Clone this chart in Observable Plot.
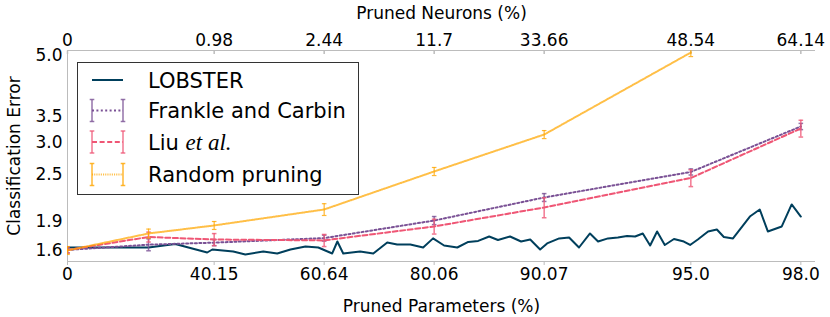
<!DOCTYPE html>
<html><head><meta charset="utf-8">
<script src="https://cdn.jsdelivr.net/npm/d3@7"></script>
<script src="https://cdn.jsdelivr.net/npm/@observablehq/plot@0.6"></script>
<style>body{margin:0;background:#fff} #chart svg{display:block}</style>
</head><body><div id="chart"></div>
<script>
// x = position index along the pruning schedule; ticks labelled with % pruned
const iterTicks = [0, 4, 7, 10, 13, 17, 20];
const paramLabels = ["0", "40.15", "60.64", "80.06", "90.07", "95.0", "98.0"];
const neuronLabels = ["0", "0.98", "2.44", "11.7", "33.66", "48.54", "64.14"];
const yTicks = [1.6, 1.9, 2.5, 3.0, 3.5, 5.0];

const lobsterX = [0, 2.21, 2.94, 3.81, 3.95, 4.52, 4.85, 5.34, 5.72, 6.08, 6.49, 6.84, 7.22, 7.36, 7.52, 7.98, 8.34, 8.72, 8.99, 9.35, 9.70, 9.97, 10.27, 10.63, 10.93, 11.20, 11.50, 11.74, 12.07, 12.37, 12.62, 12.89, 13.08, 13.41, 13.68, 13.95, 14.25, 14.47, 14.74, 15.01, 15.26, 15.48, 15.69, 15.89, 16.08, 16.29, 16.54, 16.81, 16.98, 17.19, 17.47, 17.71, 17.90, 18.15, 18.61, 18.88, 19.10, 19.48, 19.75, 20.00];
const lobsterY = [1.628, 1.628, 1.662, 1.581, 1.609, 1.590, 1.563, 1.590, 1.572, 1.609, 1.638, 1.628, 1.572, 1.686, 1.572, 1.590, 1.572, 1.677, 1.657, 1.657, 1.628, 1.717, 1.647, 1.628, 1.682, 1.692, 1.736, 1.701, 1.736, 1.686, 1.706, 1.609, 1.667, 1.717, 1.726, 1.628, 1.767, 1.686, 1.717, 1.726, 1.741, 1.736, 1.767, 1.647, 1.788, 1.652, 1.711, 1.686, 1.652, 1.706, 1.788, 1.809, 1.731, 1.717, 1.951, 2.033, 1.788, 1.841, 2.094, 1.951];

const baseX = [0, 2.21, 4, 7, 10, 13, 17, 20];
const frankleY = [1.605, 1.655, 1.675, 1.72, 1.906, 2.181, 2.532, 3.303];
const frankleErr = [0.028, 0.058, 0.03, 0.03, 0.045, 0.05, 0.045, 0.06];
const liuY = [1.605, 1.731, 1.706, 1.697, 1.841, 2.057, 2.444, 3.265];
const liuErr = [0.028, 0.05, 0.06, 0.06, 0.08, 0.12, 0.12, 0.16];
const randomX = [0, 2.21, 4, 7, 10, 13, 17];
const randomY = [1.6, 1.767, 1.852, 2.033, 2.539, 3.151, 5.09];
const randomErr = [0.037, 0.046, 0.043, 0.07, 0.06, 0.074, 0.12];

const seriesNames = ["LOBSTER", "Frankle and Carbin", "Liu et al.", "Random pruning"];
const colors = ["#003f5c", "#7a5195", "#ef5675", "#ffa600"];
const dashes = [null, "2,2.4", "5,2.6", "1.1,1.1"];
const lineOpacity = [1, 1, 1, 0.72];

const lobster = lobsterX.map((x, i) => ({x, y: lobsterY[i]}));
const mk = (xs, ys, es) => xs.map((x, i) => ({x, y: ys[i], lo: ys[i] - es[i], hi: ys[i] + es[i]}));
const frankle = mk(baseX, frankleY, frankleErr);
const liu = mk(baseX, liuY, liuErr);
const random = mk(randomX, randomY, randomErr);

const hCap = {draw(ctx, size) { const w = Math.sqrt(size / Math.PI); ctx.moveTo(-w, 0); ctx.lineTo(w, 0); }};
const vTick = {draw(ctx, size) { const l = Math.sqrt(size / Math.PI); ctx.moveTo(0, 0); ctx.lineTo(0, l); }};

function errMarks(data, color, w) {
  return [
    Plot.ruleX(data, {x: "x", y1: "lo", y2: "hi", stroke: color, strokeWidth: w, strokeOpacity: 0.8, clip: true}),
    Plot.dot(data, {x: "x", y: "lo", symbol: hCap, r: 2.3, stroke: color, strokeWidth: w, strokeOpacity: 0.8, fill: "none", clip: true}),
    Plot.dot(data, {x: "x", y: "hi", symbol: hCap, r: 2.3, stroke: color, strokeWidth: w, strokeOpacity: 0.8, fill: "none", clip: true})
  ];
}

const gray = "#bcbcbc";
const plot = Plot.plot({
  width: 830, height: 317,
  marginLeft: 67, marginRight: 15, marginTop: 50, marginBottom: 56,
  style: {fontFamily: "DejaVu Sans", fontSize: "17px", color: "#000", background: "#fff", overflow: "visible"},
  x: {domain: [0, 20.4]},
  y: {type: "log", domain: [1.5, 5.15]},
  marks: [
    Plot.ruleX([0], {stroke: gray}),
    Plot.ruleY([1.5, 5.15], {stroke: gray}),
    Plot.axisY({ticks: yTicks, tickFormat: d3.format(".1f"), tickSize: 0, tickPadding: 5, fontSize: 17,
      label: "Classification Error", labelAnchor: "center", labelArrow: "none", labelOffset: 60}),
    Plot.axisX({anchor: "bottom", ticks: iterTicks, tickFormat: d => paramLabels[iterTicks.indexOf(d)],
      tickSize: 4, tickPadding: 2, stroke: gray, fill: "#000", fontSize: 17,
      label: "Pruned Parameters (%)", labelAnchor: "center", labelArrow: "none", labelOffset: 50}),
    Plot.axisX({anchor: "top", ticks: iterTicks, tickFormat: d => neuronLabels[iterTicks.indexOf(d)],
      tickSize: 0, tickPadding: 5, fill: "#000", fontSize: 17,
      label: "Pruned Neurons (%)", labelAnchor: "center", labelArrow: "none", labelOffset: 44}),
    Plot.dot(iterTicks, {x: d => d, frameAnchor: "top", symbol: vTick, r: 3.5, stroke: gray, fill: "none"}),
    Plot.line(lobster, {x: "x", y: "y", stroke: colors[0], strokeWidth: 2, clip: true}),
    Plot.line(frankle, {x: "x", y: "y", stroke: colors[1], strokeWidth: 2, strokeDasharray: dashes[1], clip: true}),
    ...errMarks(frankle, colors[1], 1.5),
    Plot.line(liu, {x: "x", y: "y", stroke: colors[2], strokeWidth: 2, strokeDasharray: dashes[2], clip: true}),
    ...errMarks(liu, colors[2], 1.5),
    Plot.line(random, {x: "x", y: "y", stroke: colors[3], strokeWidth: 2, strokeOpacity: lineOpacity[3], strokeDasharray: dashes[3], clip: true}),
    ...errMarks(random, colors[3], 1.2)
  ]
});
document.getElementById("chart").appendChild(plot);

// Legend box
const svg = d3.select(plot);
const lg = svg.append("g").attr("font-family", "DejaVu Sans").attr("font-size", 21).attr("text-anchor", "start");
lg.append("rect").attr("x", 77.5).attr("y", 62.5).attr("width", 281).attr("height", 132)
  .attr("fill", "#fff").attr("stroke", "#333").attr("stroke-width", 1);
const rowY = [80, 110.5, 142, 174.5];
seriesNames.forEach((name, i) => {
  const y = rowY[i];
  lg.append("line").attr("x1", 92).attr("x2", 123).attr("y1", y).attr("y2", y)
    .attr("stroke", colors[i]).attr("stroke-width", 2).attr("stroke-opacity", lineOpacity[i])
    .attr("stroke-dasharray", dashes[i]);
  if (i > 0) {
    [92, 123].forEach(xx => {
      lg.append("line").attr("x1", xx).attr("x2", xx).attr("y1", y - 11).attr("y2", y + 11)
        .attr("stroke", colors[i]).attr("stroke-width", 1.5).attr("stroke-opacity", 0.8);
      [y - 11, y + 11].forEach(yy => lg.append("line").attr("x1", xx - 2.3).attr("x2", xx + 2.3)
        .attr("y1", yy).attr("y2", yy).attr("stroke", colors[i]).attr("stroke-width", 1.5).attr("stroke-opacity", 0.8));
    });
  }
  const t = lg.append("text").attr("x", 148).attr("y", y).attr("dy", "0.36em").attr("fill", "#000")
    .attr("text-anchor", "start");
  if (name === "Liu et al.") {
    t.append("tspan").text("Liu ");
    t.append("tspan").attr("font-family", "Liberation Serif").attr("font-style", "italic")
      .attr("font-size", 23).text("et al.");
  } else t.text(name);
});
</script></body></html>
